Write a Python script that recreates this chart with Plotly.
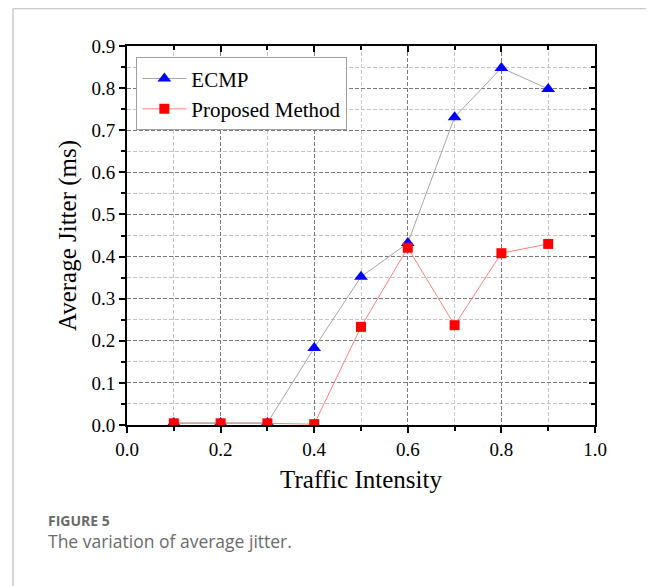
import plotly.graph_objects as go

traffic = [0.1, 0.2, 0.3, 0.4, 0.5, 0.6, 0.7, 0.8, 0.9]
ecmp = [0.005, 0.005, 0.005, 0.183, 0.352, 0.432, 0.731, 0.848, 0.798]
proposed = [0.004, 0.004, 0.004, 0.002, 0.233, 0.421, 0.237, 0.408, 0.430]

x_range = [0.0, 1.0]
x_step = 0.2
y_range = [0.0, 0.9]
y_step = 0.1

serif = "Liberation Serif"

# the page body has an 8px margin, so the figure is laid out 8px smaller
OFF = 8
W, H = 654 - OFF, 586 - OFF
L, R, T, B = 127 - OFF, 59, 46 - OFF, 586 - 425
pw = W - L - R
ph = H - T - B

fig = go.Figure()
fig.add_trace(go.Scatter(
    x=traffic, y=ecmp, name="ECMP", mode="lines+markers",
    line=dict(color="#a6a6a6", width=1),
    marker=dict(symbol="triangle-up", color="#0000ff", size=12, line=dict(width=0)),
))
fig.add_trace(go.Scatter(
    x=traffic, y=proposed, name="Proposed Method", mode="lines+markers",
    line=dict(color="#ff8080", width=1),
    marker=dict(symbol="square", color="#ff0000", size=10, line=dict(width=0)),
))

grid_major = "#7a7a7a"
grid_minor = "#c4c4c4"
dash = "4px,2px"
tick_font = dict(family=serif, size=19, color="black")

fig.update_layout(
    width=W, height=H,
    margin=dict(l=L, r=R, t=T, b=B),
    paper_bgcolor="white", plot_bgcolor="white",
    font=dict(family=serif, size=19),
    showlegend=True,
    legend=dict(
        x=0.02, y=0.97, xanchor="left", yanchor="top",
        bgcolor="white", bordercolor="#a0a0a0", borderwidth=1,
        font=dict(family=serif, size=21, color="black"),
        tracegroupgap=0, itemwidth=44,
    ),
    xaxis=dict(
        range=x_range, dtick=x_step, tickformat=".1f", tickfont=tick_font,
        showline=True, linecolor="black", linewidth=2,
        ticks="outside", ticklen=6, tickwidth=2, tickcolor="black",
        showgrid=True, gridcolor=grid_major, griddash=dash, gridwidth=1,
        minor=dict(dtick=x_step / 2, showgrid=True, gridcolor=grid_minor, griddash=dash,
                   ticks="outside", ticklen=4, tickwidth=1.5, tickcolor="black"),
        zeroline=False,
        title=dict(text="Traffic Intensity", font=dict(family=serif, size=25, color="black"),
                   standoff=12),
    ),
    yaxis=dict(
        range=y_range, dtick=y_step, tickformat=".1f", tickfont=tick_font,
        showline=True, linecolor="black", linewidth=2,
        ticks="outside", ticklen=6, tickwidth=2, tickcolor="black",
        showgrid=True, gridcolor=grid_major, griddash=dash, gridwidth=1,
        minor=dict(dtick=y_step / 2, showgrid=True, gridcolor=grid_minor, griddash=dash,
                   ticks="outside", ticklen=4, tickwidth=1.5, tickcolor="black"),
        zeroline=False,
        title=dict(text="Average Jitter (ms)", font=dict(family=serif, size=25, color="black"),
                   standoff=8),
    ),
    xaxis2=dict(
        range=x_range, overlaying="x", side="top", dtick=x_step,
        showticklabels=False, tickfont=tick_font,
        showline=True, linecolor="black", linewidth=2,
        ticks="inside", ticklen=6, tickwidth=2, tickcolor="black",
        minor=dict(dtick=x_step / 2, ticks="inside", ticklen=4, tickwidth=1.5, tickcolor="black"),
        showgrid=False, zeroline=False,
    ),
    yaxis2=dict(
        range=y_range, overlaying="y", side="right", dtick=y_step,
        showticklabels=False, tickfont=tick_font,
        showline=True, linecolor="black", linewidth=2,
        ticks="inside", ticklen=6, tickwidth=2, tickcolor="black",
        minor=dict(dtick=y_step / 2, ticks="inside", ticklen=4, tickwidth=1.5, tickcolor="black"),
        showgrid=False, zeroline=False,
    ),
)

# invisible trace to activate the mirrored (top/right) axes
fig.add_trace(go.Scatter(x=[None], y=[None], xaxis="x2", yaxis="y2",
                         showlegend=False, hoverinfo="skip"))

def px_x(p):
    return (p - OFF - L) / pw
def px_y(p):
    return (H - B - (p - OFF)) / ph

# panel border (top and left light gray lines)
fig.add_shape(type="line", xref="paper", yref="paper",
              x0=px_x(13), x1=px_x(660), y0=px_y(8.5), y1=px_y(8.5),
              line=dict(color="#c8c8c8", width=1.5))
fig.add_shape(type="line", xref="paper", yref="paper",
              x0=px_x(13), x1=px_x(13), y0=px_y(8.5), y1=px_y(600),
              line=dict(color="#c8c8c8", width=1.5))

cap_font = "Open Sans"
fig.add_annotation(text="<b>FIGURE 5</b>", xref="paper", yref="paper",
                   x=px_x(46), y=px_y(520), xanchor="left", yanchor="middle",
                   showarrow=False, font=dict(family=cap_font, size=14, color="#6b6b6b"))
fig.add_annotation(text="The variation of average jitter.", xref="paper", yref="paper",
                   x=px_x(46), y=px_y(541), xanchor="left", yanchor="middle",
                   showarrow=False, font=dict(family=cap_font, size=17.5, color="#6b6b6b"))

fig.write_html("out.html")
